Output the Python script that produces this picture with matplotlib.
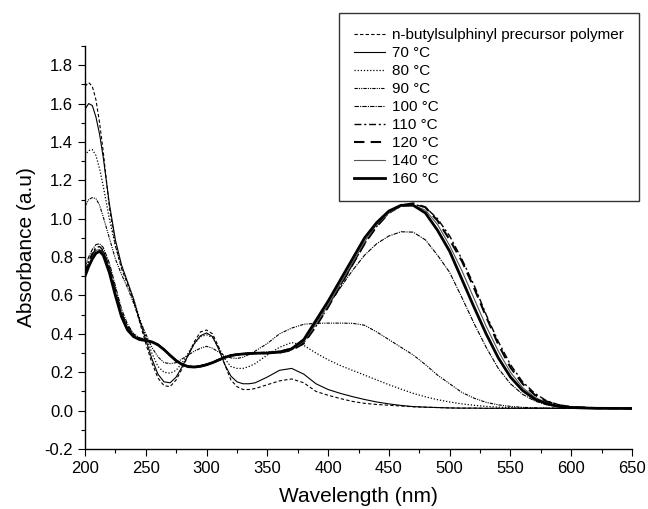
import matplotlib
matplotlib.use("Agg")
import matplotlib.pyplot as plt
from matplotlib.ticker import MultipleLocator, FormatStrFormatter

plt.rcParams["font.family"] = ["Liberation Sans", "DejaVu Sans"]
plt.rcParams["axes.unicode_minus"] = False

# common wavelength grid (nm)
wavelength = [200, 203, 206, 209, 212, 215, 220, 225, 230, 235,
              240, 245, 250, 255, 260, 265, 270, 275, 280, 285,
              290, 295, 300, 305, 310, 315, 320, 325, 330, 335,
              340, 350, 360, 370, 380, 390, 400, 410, 420, 430,
              440, 450, 460, 470, 480, 490, 500, 510, 520, 530,
              540, 550, 560, 570, 580, 590, 600, 620, 650]

precursor = [1.69, 1.71, 1.69, 1.62, 1.50, 1.35, 1.06, 0.86, 0.74, 0.66,
             0.57, 0.46, 0.35, 0.25, 0.17, 0.13, 0.125, 0.16, 0.22, 0.29,
             0.36, 0.41, 0.42, 0.40, 0.33, 0.24, 0.16, 0.125, 0.11, 0.11,
             0.115, 0.135, 0.155, 0.165, 0.145, 0.10, 0.08, 0.063, 0.048, 0.038,
             0.032, 0.028, 0.024, 0.02, 0.018, 0.016, 0.014, 0.013, 0.013, 0.012,
             0.012, 0.012, 0.012, 0.012, 0.012, 0.012, 0.012, 0.012, 0.012]
t70 = [1.57, 1.60, 1.59, 1.53, 1.44, 1.32, 1.08, 0.89, 0.76, 0.67,
       0.58, 0.47, 0.37, 0.27, 0.19, 0.15, 0.145, 0.175, 0.23, 0.29,
       0.35, 0.39, 0.405, 0.385, 0.32, 0.24, 0.18, 0.15, 0.14, 0.14,
       0.145, 0.175, 0.21, 0.22, 0.19, 0.14, 0.11, 0.09, 0.073, 0.058,
       0.045, 0.035, 0.027, 0.021, 0.018, 0.016, 0.014, 0.013, 0.013, 0.012,
       0.012, 0.012, 0.012, 0.012, 0.012, 0.012, 0.012, 0.012, 0.012]
t80 = [1.33, 1.355, 1.36, 1.33, 1.26, 1.17, 1.00, 0.86, 0.75, 0.67,
       0.58, 0.48, 0.39, 0.30, 0.23, 0.20, 0.195, 0.21, 0.25, 0.30,
       0.35, 0.385, 0.395, 0.38, 0.33, 0.27, 0.23, 0.22, 0.22, 0.23,
       0.245, 0.29, 0.33, 0.355, 0.34, 0.30, 0.265, 0.235, 0.21, 0.185,
       0.16, 0.135, 0.112, 0.09, 0.072, 0.057, 0.045, 0.035, 0.028, 0.022,
       0.018, 0.016, 0.014, 0.013, 0.013, 0.012, 0.012, 0.012, 0.012]
t90 = [1.065, 1.10, 1.11, 1.105, 1.07, 1.01, 0.90, 0.79, 0.71, 0.64,
       0.56, 0.47, 0.40, 0.33, 0.28, 0.25, 0.245, 0.25, 0.27, 0.29,
       0.31, 0.325, 0.335, 0.325, 0.305, 0.285, 0.275, 0.272, 0.278, 0.293,
       0.31, 0.35, 0.40, 0.43, 0.45, 0.455, 0.456, 0.456, 0.455, 0.445,
       0.41, 0.37, 0.33, 0.29, 0.24, 0.185, 0.14, 0.095, 0.065, 0.043,
       0.03, 0.022, 0.017, 0.015, 0.013, 0.013, 0.012, 0.012, 0.012]
t100 = [0.75, 0.80, 0.84, 0.865, 0.87, 0.85, 0.77, 0.65, 0.53, 0.45,
        0.40, 0.38, 0.37, 0.36, 0.345, 0.32, 0.29, 0.262, 0.243, 0.232,
        0.23, 0.235, 0.243, 0.253, 0.267, 0.28, 0.29, 0.295, 0.298, 0.30,
        0.302, 0.305, 0.31, 0.325, 0.37, 0.46, 0.55, 0.64, 0.73, 0.81,
        0.87, 0.91, 0.932, 0.93, 0.89, 0.81, 0.72, 0.59, 0.455, 0.33,
        0.22, 0.14, 0.085, 0.05, 0.03, 0.02, 0.015, 0.012, 0.011]
t110 = [0.72, 0.78, 0.82, 0.85, 0.855, 0.835, 0.75, 0.63, 0.51, 0.44,
        0.395, 0.375, 0.368, 0.36, 0.345, 0.32, 0.29, 0.262, 0.242, 0.231,
        0.229, 0.233, 0.241, 0.252, 0.266, 0.279, 0.289, 0.294, 0.297, 0.299,
        0.301, 0.302, 0.305, 0.318, 0.355, 0.44, 0.54, 0.65, 0.76, 0.87,
        0.96, 1.03, 1.065, 1.075, 1.06, 1.00, 0.91, 0.79, 0.655, 0.50,
        0.36, 0.24, 0.15, 0.09, 0.05, 0.03, 0.02, 0.013, 0.011]
t120 = [0.71, 0.77, 0.81, 0.84, 0.845, 0.825, 0.74, 0.62, 0.50, 0.43,
        0.39, 0.372, 0.366, 0.358, 0.343, 0.318, 0.288, 0.26, 0.24, 0.229,
        0.227, 0.231, 0.239, 0.25, 0.264, 0.277, 0.287, 0.292, 0.295, 0.297,
        0.299, 0.30, 0.302, 0.315, 0.35, 0.44, 0.54, 0.65, 0.76, 0.87,
        0.96, 1.03, 1.07, 1.08, 1.06, 0.99, 0.89, 0.78, 0.64, 0.49,
        0.345, 0.225, 0.14, 0.082, 0.047, 0.028, 0.019, 0.013, 0.011]
t140 = [0.70, 0.76, 0.80, 0.835, 0.84, 0.82, 0.735, 0.615, 0.50, 0.43,
        0.39, 0.372, 0.366, 0.358, 0.343, 0.318, 0.288, 0.26, 0.24, 0.229,
        0.227, 0.231, 0.239, 0.25, 0.264, 0.277, 0.287, 0.292, 0.295, 0.297,
        0.299, 0.30, 0.303, 0.318, 0.36, 0.45, 0.55, 0.66, 0.77, 0.88,
        0.97, 1.03, 1.065, 1.07, 1.045, 0.97, 0.86, 0.73, 0.585, 0.44,
        0.31, 0.20, 0.12, 0.07, 0.04, 0.025, 0.017, 0.012, 0.011]
t160 = [0.70, 0.75, 0.79, 0.82, 0.83, 0.81, 0.72, 0.60, 0.49, 0.42,
        0.385, 0.37, 0.365, 0.358, 0.343, 0.318, 0.288, 0.26, 0.24, 0.229,
        0.227, 0.231, 0.239, 0.25, 0.264, 0.277, 0.287, 0.292, 0.295, 0.297,
        0.299, 0.30, 0.305, 0.322, 0.37, 0.47, 0.57, 0.68, 0.79, 0.90,
        0.98, 1.04, 1.07, 1.07, 1.03, 0.94, 0.83, 0.685, 0.54, 0.40,
        0.275, 0.175, 0.105, 0.06, 0.035, 0.022, 0.016, 0.012, 0.011]

labels = ["n-butylsulphinyl precursor polymer", "70 °C", "80 °C", "90 °C",
          "100 °C", "110 °C", "120 °C", "140 °C", "160 °C"]
series = [precursor, t70, t80, t90, t100, t110, t120, t140, t160]

# line style per curve: (linestyle, linewidth, colour)
styles = [
    ((0, (3, 2)), 0.8, "black"),
    ("-", 0.8, "black"),
    ((0, (1, 1.5)), 0.9, "black"),
    ((0, (3, 1, 1, 1, 1, 1)), 0.8, "black"),
    ((0, (4, 1, 1, 1)), 0.8, "black"),
    ((0, (5, 2, 1.5, 2)), 1.0, "black"),
    ((0, (5, 3)), 1.5, "black"),
    ("-", 0.8, "#555555"),
    ("-", 2.0, "black"),
]

fig = plt.figure(figsize=(6.48, 5.09), dpi=100)
ax = fig.add_axes([85 / 648, 60 / 509, 547 / 648, 403 / 509])

for y, lab, (ls, lw, col) in zip(series, labels, styles):
    ax.plot(wavelength, y, linestyle=ls, linewidth=lw, color=col, label=lab)

ax.set_xlim(200, 650)
ax.set_ylim(-0.2, 1.9)
ax.set_yticks([-0.2, 0.0, 0.2, 0.4, 0.6, 0.8, 1.0, 1.2, 1.4, 1.6, 1.8])
ax.xaxis.set_major_locator(MultipleLocator(50))
ax.xaxis.set_minor_locator(MultipleLocator(25))
ax.yaxis.set_minor_locator(MultipleLocator(0.1))
ax.yaxis.set_major_formatter(FormatStrFormatter("%.1f"))

for side in ("top", "right"):
    ax.spines[side].set_visible(False)
for side in ("left", "bottom"):
    ax.spines[side].set_linewidth(1.0)

ax.tick_params(which="major", direction="out", length=5, width=0.8, labelsize=12)
ax.tick_params(which="minor", direction="out", length=3, width=0.8)

ax.set_xlabel("Wavelength (nm)", fontsize=15, labelpad=8)
ax.set_ylabel("Absorbance (a.u)", fontsize=15, labelpad=6)

leg = ax.legend(loc="upper left", bbox_to_anchor=(339 / 648, 1 - 13 / 509),
                bbox_transform=fig.transFigure, borderaxespad=0,
                fontsize=11, frameon=True, fancybox=False,
                handlelength=2.0, handletextpad=0.45, labelspacing=0.26,
                borderpad=1.0)
leg.get_frame().set_edgecolor("black")
leg.get_frame().set_linewidth(1.0)

fig.savefig("out.png", dpi=100)
plt.close(fig)
